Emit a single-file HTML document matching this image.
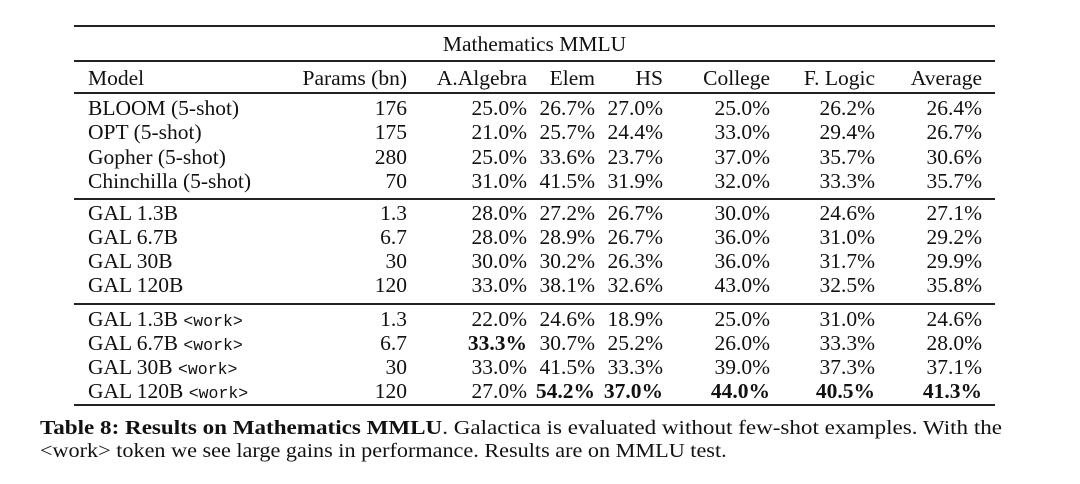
<!DOCTYPE html>
<html><head><meta charset="utf-8">
<style>
html,body{margin:0;padding:0;background:#fff;}
#wrap{position:relative;width:1080px;height:484px;overflow:hidden;font-family:"Liberation Serif",serif;color:#111;}
.c{position:absolute;height:24px;line-height:24px;font-size:21.5px;white-space:nowrap;}
.r{text-align:right;}
.rule{position:absolute;left:74px;width:921px;background:#222;}
.mono{font-family:"Liberation Mono",monospace;font-size:16.5px;}
b{font-weight:bold;}
.cap{position:absolute;left:40px;font-size:20px;white-space:nowrap;transform-origin:0 50%;line-height:24px;}
</style></head><body>
<div id="wrap">
<div class="rule" style="top:25px;height:2px"></div>
<div class="c" style="left:74px;width:921px;text-align:center;top:32px">Mathematics MMLU</div>
<div class="rule" style="top:60px;height:1.5px"></div>
<div class="rule" style="top:92px;height:1.5px"></div>
<div class="rule" style="top:198px;height:1.5px"></div>
<div class="rule" style="top:303px;height:1.5px"></div>
<div class="rule" style="top:404px;height:2px"></div>
<div id="cells"></div>
<div class="cap" id="cap1" style="top:416px"><b>Table 8: Results on Mathematics MMLU</b>. Galactica is evaluated without few-shot examples. With the</div>
<div class="cap" id="cap2" style="top:439px">&lt;work&gt; token we see large gains in performance. Results are on MMLU test.</div>
</div>
<script>
const headers=["Model","Params (bn)","A.Algebra","Elem","HS","College","F. Logic","Average"];
const colRight=[0,407,527,595,663,770,875,982];
const models=["BLOOM (5-shot)","OPT (5-shot)","Gopher (5-shot)","Chinchilla (5-shot)","GAL 1.3B","GAL 6.7B","GAL 30B","GAL 120B","GAL 1.3B ","GAL 6.7B ","GAL 30B ","GAL 120B "];
const params=["176","175","280","70","1.3","6.7","30","120","1.3","6.7","30","120"];
const values=[
["25.0%","26.7%","27.0%","25.0%","26.2%","26.4%"],
["21.0%","25.7%","24.4%","33.0%","29.4%","26.7%"],
["25.0%","33.6%","23.7%","37.0%","35.7%","30.6%"],
["31.0%","41.5%","31.9%","32.0%","33.3%","35.7%"],
["28.0%","27.2%","26.7%","30.0%","24.6%","27.1%"],
["28.0%","28.9%","26.7%","36.0%","31.0%","29.2%"],
["30.0%","30.2%","26.3%","36.0%","31.7%","29.9%"],
["33.0%","38.1%","32.6%","43.0%","32.5%","35.8%"],
["22.0%","24.6%","18.9%","25.0%","31.0%","24.6%"],
["33.3%","30.7%","25.2%","26.0%","33.3%","28.0%"],
["33.0%","41.5%","33.3%","39.0%","37.3%","37.1%"],
["27.0%","54.2%","37.0%","44.0%","40.5%","41.3%"]];
const bold=[[9,0],[11,1],[11,2],[11,3],[11,4],[11,5]];
const rowY=[108,132,157,181,213,237,261,285,319,343,367,391];
const cells=document.getElementById('cells');
function cell(txt,y,right,name,isBold,isWork){
  const d=document.createElement('div');
  
  
  d.className='c'+(right?' r':'');
  d.style.top=(y-12)+'px';
  if(right){d.style.left=(right-200)+'px';d.style.width='200px';}
  else d.style.left='88px';
  if(isBold)d.style.fontWeight='bold';
  d.textContent=txt;
  if(isWork){const s=document.createElement('span');s.className='mono';s.textContent='<work>';d.appendChild(s);}
  cells.appendChild(d);
}
headers.forEach((h,i)=>cell(h,78,i?colRight[i]:0,'header-'+h.toLowerCase().replace(/[^a-z0-9]+/g,'-'),false,false));
models.forEach((m,r)=>{
  const isWork=r>=8;
  cell(m,rowY[r],0,'model-name-'+r,false,isWork);
  cell(params[r],rowY[r],colRight[1],'params-'+r,false,false);
  values[r].forEach((v,j)=>{
    const b=bold.some(p=>p[0]===r&&p[1]===j);
    cell(v,rowY[r],colRight[j+2],'value-r'+r+'-c'+j,b,false);
  });
});
function fit(id,w){const e=document.getElementById(id);const cw=e.scrollWidth;e.style.transform='scaleX('+(w/cw)+')';}
fit('cap1',962);fit('cap2',687);
</script>
</body></html>
